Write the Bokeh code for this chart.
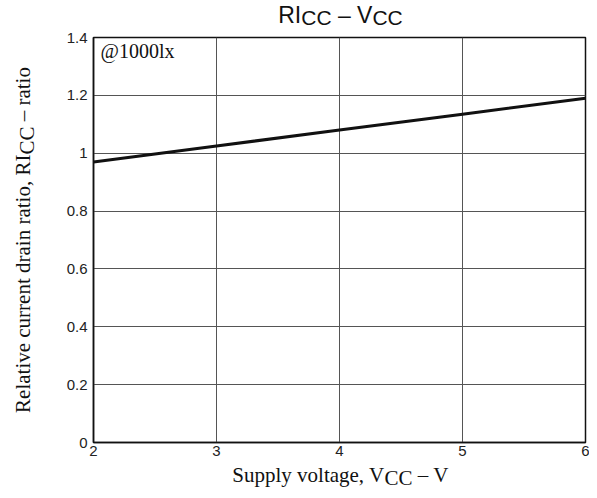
import math
from bokeh.plotting import figure
from bokeh.models import Range1d, FixedTicker, Label
from bokeh.layouts import row, column
from bokeh.embed import file_html
from bokeh.resources import INLINE

# ---- data ----
vcc = [2, 3, 4, 5, 6]
ricc = [0.97, 1.025, 1.08, 1.135, 1.19]
x_ticks = [2, 3, 4, 5, 6]
y_ticks = [0, 0.2, 0.4, 0.6, 0.8, 1.0, 1.2, 1.4]
y_tick_labels = ["0", "0.2", "0.4", "0.6", "0.8", "1", "1.2", "1.4"]
title_parts = [("RI", False), ("CC", True), (" \u2013 V", False), ("CC", True)]
xlabel_parts = [("Supply voltage, V", False), ("CC", True), (" \u2013 V", False)]
ylabel_parts = [("Relative current drain ratio, RI", False), ("CC", True), (" \u2013 ratio", False)]
note = "@1000lx"

# ---- layout (picture pixels) ----
TOTAL_W, TOTAL_H = 589, 490
LW = 45
FL, FT, FR, FB = 93, 37, 585, 442
M_TOP, M_BOT = 8, 20
TH = FT - M_TOP
MH = M_TOP + (FB - FT) + M_BOT
BH = TOTAL_H - TH - MH
MW = TOTAL_W - LW
X0, X1, Y0, Y1 = 2, 6, 0, 1.4
sx = (FR - FL) / (X1 - X0)
sy = (FB - FT) / (Y1 - Y0)
MID_SANS = 0.347   # baseline offset below a "middle" anchor, in em
MID_SERIF = 0.338

SERIF = {'R': 667, 'e': 444, 'l': 278, 'a': 444, 't': 278, 'i': 278, 'v': 500, ' ': 250,
         'c': 444, 'u': 500, 'r': 333, 'n': 500, 'd': 500, 'o': 500, ',': 250, 'I': 333,
         'C': 667, '\u2013': 500, 'S': 556, 'p': 500, 'y': 500, 'g': 500, 'V': 722}
SANS = {'R': 722, 'I': 278, 'C': 722, ' ': 278, '\u2013': 556, 'V': 667}

def tw(s, table, size):
    return sum(table.get(ch, 500) for ch in s) / 1000.0 * size

def strip(w, h, xr):
    f = figure(width=w, height=h, output_backend="svg", toolbar_location=None,
               x_range=Range1d(*xr), y_range=Range1d(0, h),
               x_axis_location=None, y_axis_location=None,
               min_border=0, min_border_left=0, min_border_right=0,
               min_border_top=0, min_border_bottom=0)
    f.title = None
    f.grid.visible = False
    f.outline_line_color = None
    f.background_fill_color = "white"
    f.border_fill_color = "white"
    return f

def put(f, oy, h, x, py, text, font, size, angle=0.0):
    # x in strip x-units, py: picture y of the middle line of the text
    f.add_layout(Label(x=x, y=h - (py - oy), text=text, text_font=font,
                       text_font_size=f"{size}px", text_color="#111111", angle=angle,
                       text_align="left", text_baseline="middle"))

def lead(s, table, size):
    return tw(s[:len(s) - len(s.lstrip())], table, size)

p = figure(width=MW, height=MH, output_backend="svg", toolbar_location=None,
           x_range=Range1d(X0, X1), y_range=Range1d(Y0, Y1),
           min_border_left=FL - LW, min_border_right=LW + MW - FR,
           min_border_top=M_TOP, min_border_bottom=M_BOT)
p.background_fill_color = "white"
p.border_fill_color = "white"
p.outline_line_color = "#111111"
p.outline_line_width = 1.5
for ax in (p.xaxis[0], p.yaxis[0]):
    ax.axis_line_color = "#111111"
    ax.axis_line_width = 1.5
    ax.major_tick_in = 0
    ax.major_tick_out = 0
    ax.minor_tick_in = 0
    ax.minor_tick_out = 0
    ax.major_label_text_font = "Liberation Sans"
    ax.major_label_text_font_size = "15px"
    ax.major_label_text_color = "#222222"
p.xaxis.ticker = FixedTicker(ticks=x_ticks)
p.yaxis.ticker = FixedTicker(ticks=y_ticks)
p.yaxis.major_label_overrides = {t: l for t, l in zip(y_ticks, y_tick_labels)}
p.xaxis.major_label_standoff = 3
p.yaxis.major_label_standoff = 6
p.xgrid.ticker = FixedTicker(ticks=x_ticks)
p.ygrid.ticker = FixedTicker(ticks=y_ticks)
p.grid.grid_line_color = "#555555"
p.grid.grid_line_width = 1
p.line(vcc, ricc, line_color="#111111", line_width=3)

NS = 20
p.add_layout(Label(x=X0 + (100 - FL) / sx, y=Y0 + (FB - (57 - MID_SERIF * NS)) / sy, text=note,
                   text_font="Liberation Serif", text_font_size=f"{NS}px", text_color="#111111",
                   text_align="left", text_baseline="middle"))

# title (strip frame is aligned with the chart frame: x in picture pixels FL..FR)
t = strip(MW, TH, (FL, FR))
cx = (FL + FR) / 2 + 1
sizes_t = [23 if not sub else 21 for _, sub in title_parts]
tot = sum(tw(s, SANS, z) for (s, _), z in zip(title_parts, sizes_t))
x = cx - tot / 2
for (s, sub), z in zip(title_parts, sizes_t):
    base = 24.5 if sub else 22.5
    put(t, 0, TH, x + lead(s, SANS, z), base - MID_SANS * z, s.strip(), "Liberation Sans", z)
    x += tw(s, SANS, z)

# x label
b = strip(MW, BH, (FL, FR))
LS = 21
tot = sum(tw(s, SERIF, LS) for s, _ in xlabel_parts)
x = cx - tot / 2
for s, sub in xlabel_parts:
    base = 485 if sub else 482
    put(b, TH + MH, BH, x + lead(s, SERIF, LS), base - MID_SERIF * LS, s.strip(),
        "Liberation Serif", LS)
    x += tw(s, SERIF, LS)

# y label (rotated)
l = strip(LW, TOTAL_H, (0, LW))
tot = sum(tw(s, SERIF, LS) for s, _ in ylabel_parts)
y = (FT + FB) / 2 + tot / 2
for s, sub in ylabel_parts:
    base = 34 if sub else 30
    put(l, 0, TOTAL_H, base - MID_SERIF * LS, y - lead(s, SERIF, LS), s.strip(),
        "Liberation Serif", LS, angle=math.pi / 2)
    y -= tw(s, SERIF, LS)

layout = row(l, column(t, p, b, spacing=0), spacing=0)
open("out.html", "w").write(file_html(layout, INLINE))
